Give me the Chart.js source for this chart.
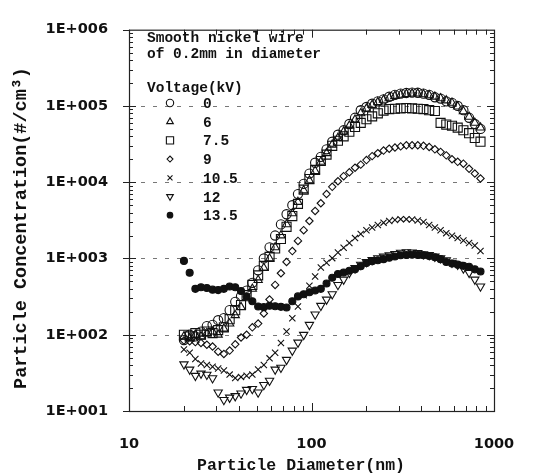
<!DOCTYPE html>
<html>
<head>
<meta charset="utf-8">
<script src="https://cdn.jsdelivr.net/npm/chart.js@4.4.0/dist/chart.umd.min.js"></script>
<style>
  html, body { margin: 0; padding: 0; background: #fff; }
  #wrap { width: 546px; height: 475px; }
</style>
</head>
<body>
<div id="wrap"><canvas id="chart" width="546" height="475"></canvas></div>
<script>
// SMPS channel mid-point diameters (nm)
const DIAMETERS = [20.0, 21.5, 23.1, 24.8, 26.7, 28.7, 30.8, 33.1, 35.6, 38.2,
  41.1, 44.1, 47.4, 51.0, 54.8, 58.9, 63.2, 68.0, 73.0, 78.5,
  84.3, 90.6, 97.4, 104.7, 112.5, 120.9, 129.9, 139.6, 150.0, 161.2,
  173.2, 186.1, 200.0, 214.9, 230.9, 248.2, 266.7, 286.6, 308.0, 331.0,
  355.7, 382.2, 410.7, 441.4, 474.3, 509.7, 547.7, 588.6, 632.5, 679.7,
  730.4, 784.9, 843.4];

// number concentration (#/cm3) per channel, one list per applied voltage
const CONC_0KV = [85, 100, 95, 110, 130, 135, 155, 165, 210, 270,
  320, 380, 480, 700, 1000, 1400, 2000, 2800, 3800, 5000,
  7000, 9500, 13000, 18000, 21500, 27000, 34000, 42000, 48000, 58000,
  70000, 88000, 97000, 107000, 115000, 122000, 132000, 140000, 145000, 148000,
  150000, 149000, 145000, 140000, 130000, 125000, 115000, 110000, 100000, 88000,
  70000, 58000, 50000];
const CONC_6KV = [95, 90, 100, 95, 105, 110, 100, 120, 140, 180,
  230, 300, 400, 520, 750, 1000, 1400, 2000, 2800, 3900,
  5500, 7800, 10500, 14000, 18500, 24000, 31000, 38000, 46000, 55000,
  66000, 80000, 92000, 103000, 112000, 120000, 128000, 135000, 140000, 143000,
  145000, 145000, 142000, 138000, 132000, 126000, 118000, 110000, 98000, 85000,
  72000, 60000, 52000];
const CONC_7_5KV = [100, 95, 105, 100, 110, 105, 115, 125, 160, 210,
  245, 330, 450, 600, 800, 1050, 1350, 1800, 2600, 3600,
  5200, 8000, 11000, 14500, 19000, 23000, 30000, 35000, 40000, 46000,
  53000, 60000, 67000, 73000, 80000, 87000, 91000, 92000, 93000, 94000,
  93000, 92000, 91000, 88000, 86000, 60000, 57000, 55000, 52000, 48000,
  44000, 38000, 34000];
const CONC_9KV = [84, 82, 80, 78, 74, 70, 60, 56, 62, 75,
  92, 100, 125, 140, 190, 290, 450, 640, 900, 1250,
  1700, 2350, 3100, 4200, 5300, 7000, 8700, 10300, 12000, 13500,
  15500, 17000, 19500, 22000, 24000, 26000, 27500, 28500, 29500, 30500,
  30500, 30500, 30000, 29000, 27000, 25000, 22500, 20000, 18500, 17500,
  15000, 13000, 11200];
const CONC_10_5KV = [64, 58, 48, 42, 40, 38, 36, 34, 30, 27,
  28, 29, 30, 35, 40, 49, 58, 78, 110, 165,
  234, 330, 440, 580, 760, 880, 1010, 1200, 1380, 1600,
  1850, 2100, 2350, 2550, 2750, 2950, 3100, 3200, 3280, 3280,
  3250, 3150, 3000, 2750, 2550, 2350, 2150, 1990, 1850, 1720,
  1600, 1480, 1250];
const CONC_12KV = [41, 35, 29, 31, 30, 27, 17.5, 14, 15, 15.7,
  17, 19, 19.5, 17.5, 22, 25, 35, 37, 47, 62,
  79, 100, 135, 185, 240, 290, 340, 450, 530, 650,
  750, 830, 900, 960, 1010, 1060, 1100, 1150, 1190, 1210,
  1200, 1180, 1140, 1110, 1060, 1010, 950, 880, 830, 740,
  650, 530, 430];
const CONC_13_5KV = [930, 650, 400, 420, 410, 390, 385, 400, 430, 420,
  375, 320, 275, 235, 230, 240, 236, 232, 228, 275,
  318, 340, 360, 380, 400, 470, 560, 625, 655, 690,
  720, 790, 870, 920, 950, 980, 1020, 1060, 1100, 1110,
  1120, 1110, 1100, 1080, 1040, 980, 900, 860, 830, 800,
  780, 720, 675];

const VOLTAGES = ['0', '6', '7.5', '9', '10.5', '12', '13.5'];
const X_TICKS = [10, 100, 1000];
const Y_TICKS = [10, 100, 1000, 10000, 100000, 1000000];

const ALL_SERIES = [CONC_0KV, CONC_6KV, CONC_7_5KV, CONC_9KV, CONC_10_5KV, CONC_12KV, CONC_13_5KV];

// marker look for each voltage
const MARKERS = [
  { pointStyle: 'circle',   radius: 4.6, rotation: 0,   filled: false },
  { pointStyle: 'triangle', radius: 4.8, rotation: 0,   filled: false },
  { pointStyle: 'rect',     radius: 6.4, rotation: 0,   filled: false },
  { pointStyle: 'rectRot',  radius: 3.7, rotation: 0,   filled: false },
  { pointStyle: 'crossRot', radius: 4.4, rotation: 0,   filled: false },
  { pointStyle: 'triangle', radius: 4.8, rotation: 180, filled: false },
  { pointStyle: 'circle',   radius: 3.5, rotation: 0,   filled: true  },
];

const INK = '#111';
const TICK_FONT = { family: '"DejaVu Sans", Verdana, sans-serif', size: 14.5, weight: 'bold' };
const MONO = '"Liberation Mono", "DejaVu Sans Mono", monospace';

const datasets = ALL_SERIES.map((vals, i) => ({
  label: VOLTAGES[i],
  data: DIAMETERS.map((d, j) => ({ x: d, y: vals[j] })),
  showLine: false,
  pointStyle: MARKERS[i].pointStyle,
  pointRadius: MARKERS[i].radius,
  pointRotation: MARKERS[i].rotation,
  pointBorderWidth: 1.1,
  borderColor: INK,
  backgroundColor: MARKERS[i].filled ? INK : 'rgba(0,0,0,0)',
}));

// frame, inward ticks, dashed decade lines, titles and the key
const decorations = {
  id: 'decorations',
  beforeDatasetsDraw(chart) {
    const { ctx, chartArea: a, scales: { x, y } } = chart;
    ctx.save();
    // dashed decade lines
    ctx.strokeStyle = '#777';
    ctx.lineWidth = 1;
    ctx.setLineDash([4, 8]);
    [100, 1000, 10000, 100000].forEach(v => {
      const py = Math.round(y.getPixelForValue(v)) + 0.5;
      ctx.beginPath(); ctx.moveTo(a.left, py); ctx.lineTo(a.right, py); ctx.stroke();
    });
    ctx.setLineDash([]);

    // plot frame
    ctx.strokeStyle = '#222';
    ctx.lineWidth = 1.2;
    ctx.strokeRect(a.left + 0.5, a.top + 0.5, a.right - a.left, a.bottom - a.top);

    // log ticks on all four sides
    ctx.lineWidth = 1;
    for (let e = 1; e < 6; e++) {
      for (let m = 1; m < 10; m++) {
        const py = Math.round(y.getPixelForValue(m * Math.pow(10, e))) + 0.5;
        const len = m === 1 ? 7 : 4;
        ctx.beginPath();
        ctx.moveTo(a.left, py); ctx.lineTo(a.left + len, py);
        ctx.moveTo(a.right, py); ctx.lineTo(a.right - len, py);
        ctx.stroke();
      }
    }
    Y_TICKS.forEach(v => {
      const py = Math.round(y.getPixelForValue(v)) + 0.5;
      ctx.beginPath(); ctx.moveTo(a.left - 6, py); ctx.lineTo(a.left, py); ctx.stroke();
    });
    for (let e = 1; e < 3; e++) {
      for (let m = 1; m < 10; m++) {
        const px = Math.round(x.getPixelForValue(m * Math.pow(10, e))) + 0.5;
        const len = m === 1 ? 8 : 5;
        ctx.beginPath();
        ctx.moveTo(px, a.bottom); ctx.lineTo(px, a.bottom - len);
        ctx.moveTo(px, a.top); ctx.lineTo(px, a.top + len);
        ctx.stroke();
      }
    }
    ctx.restore();
  },
  afterDraw(chart) {
    const { ctx, chartArea: a } = chart;
    ctx.save();
    ctx.fillStyle = INK;

    // axis titles
    ctx.font = 'bold 16.5px ' + MONO;
    ctx.textAlign = 'center';
    ctx.textBaseline = 'alphabetic';
    ctx.fillText('Particle Diameter(nm)', 301, 470);
    ctx.save();
    ctx.translate(26, 228);
    ctx.rotate(-Math.PI / 2);
    ctx.font = 'bold 18.5px ' + MONO;
    ctx.fillText('Particle Concentration(#/cm\u00B3)', 0, 0);
    ctx.restore();

    // key
    ctx.font = 'bold 14.5px ' + MONO;
    ctx.textAlign = 'left';
    ctx.fillText('Smooth nickel wire', 147, 42);
    ctx.fillText('of 0.2mm in diameter', 147, 58);
    ctx.fillText('Voltage(kV)', 147, 92);
    VOLTAGES.forEach((v, i) => {
      const cy = 103 + i * 18.7;
      const mk = MARKERS[i];
      ctx.strokeStyle = INK;
      ctx.fillStyle = mk.filled ? INK : 'rgba(0,0,0,0)';
      ctx.lineWidth = 1.1;
      Chart.helpers.drawPoint(ctx, {
        pointStyle: mk.pointStyle, rotation: mk.rotation,
        radius: mk.radius * 0.8, borderWidth: 1.1,
      }, 170, cy);
      ctx.fillStyle = INK;
      ctx.fillText(v, 203, cy + 5);
    });
    ctx.restore();
  },
};

new Chart(document.getElementById('chart'), {
  type: 'scatter',
  data: { datasets },
  plugins: [decorations],
  options: {
    responsive: false,
    animation: false,
    devicePixelRatio: 1,
    layout: { padding: { top: 20, right: 52, left: 0, bottom: 0 } },
    plugins: { legend: { display: false }, tooltip: { enabled: false } },
    scales: {
      x: {
        type: 'logarithmic', min: 10, max: 1000,
        grid: { display: false, drawTicks: false },
        border: { display: false },
        afterBuildTicks: s => { s.ticks = X_TICKS.map(v => ({ value: v })); },
        afterFit: s => { s.height = 64; },
        ticks: {
          padding: 25, color: INK, font: TICK_FONT,
          maxRotation: 0, autoSkip: false,
          callback: v => String(v),
        },
      },
      y: {
        type: 'logarithmic', min: 10, max: 1000000,
        grid: { display: false, drawTicks: false },
        border: { display: false },
        afterBuildTicks: s => { s.ticks = Y_TICKS.map(v => ({ value: v })); },
        afterFit: s => { s.width = 129; },
        ticks: {
          padding: 21, color: INK, font: TICK_FONT, autoSkip: false,
          callback: v => '1E+' + String(Math.round(Math.log10(v))).padStart(3, '0'),
        },
      },
    },
  },
});
</script>
</body>
</html>
